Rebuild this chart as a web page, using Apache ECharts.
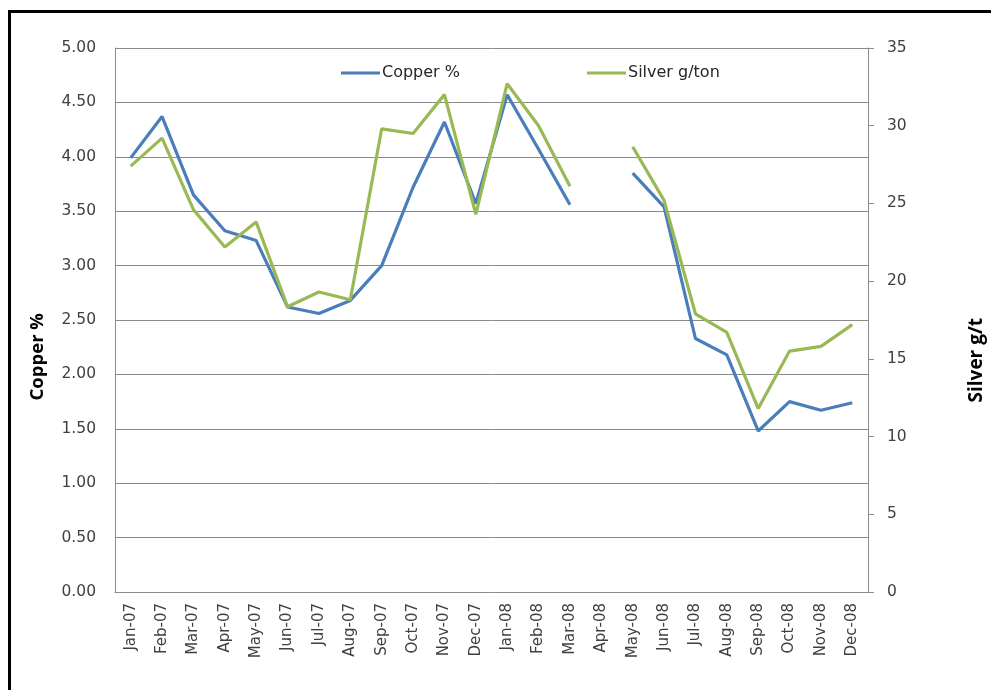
<!DOCTYPE html>
<html>
<head>
<meta charset="utf-8">
<script src="https://cdn.jsdelivr.net/npm/echarts@6/dist/echarts.min.js"></script>
<style>
  html, body { margin: 0; padding: 0; background: #fff; overflow: hidden; }
  #frame { position: absolute; left: 8px; top: 10px; width: 1200px; height: 900px;
           border-top: 3px solid #000; border-left: 3px solid #000; box-sizing: border-box; }
  #chart { position: absolute; left: 0; top: 0; width: 991px; height: 690px; }
</style>
</head>
<body>
<div id="frame"></div>
<div id="chart"></div>
<script>
// Monthly assay grades, Jan 2007 - Dec 2008 (no sample for Apr-08)
const months = ['Jan-07','Feb-07','Mar-07','Apr-07','May-07','Jun-07','Jul-07','Aug-07','Sep-07','Oct-07','Nov-07','Dec-07',
                'Jan-08','Feb-08','Mar-08','Apr-08','May-08','Jun-08','Jul-08','Aug-08','Sep-08','Oct-08','Nov-08','Dec-08'];
const copperPct = [3.99, 4.37, 3.65, 3.32, 3.23, 2.62, 2.56, 2.68, 3.00, 3.72, 4.32, 3.57,
                   4.57, 4.07, 3.56, null, 3.85, 3.54, 2.33, 2.18, 1.48, 1.75, 1.67, 1.74];
const silverGpt = [27.4, 29.2, 24.6, 22.2, 23.8, 18.35, 19.3, 18.8, 29.8, 29.5, 32.0, 24.3,
                   32.7, 30.0, 26.1, null, 28.65, 25.2, 17.9, 16.7, 11.8, 15.5, 15.8, 17.2];
const copperTicks = { min: 0, max: 5, step: 0.5 };
const silverTicks = { min: 0, max: 35, step: 5 };

const FONT = 'DejaVu Sans';
const TEXT = '#404040';
const AXIS = '#8c8c8c';

const chart = echarts.init(document.getElementById('chart'));
chart.setOption({
  animation: false,
  textStyle: { fontFamily: FONT },
  grid: { left: 115, right: 123, top: 48, bottom: 98, containLabel: false },
  legend: [
    { data: ['Copper %'], left: 336, top: 60, itemWidth: 39, itemHeight: 3,
      icon: 'rect', textStyle: { fontFamily: FONT, fontSize: 16, color: '#262626', padding: [0, 0, 0, -3] } },
    { data: ['Silver g/ton'], left: 582, top: 60, itemWidth: 39, itemHeight: 3,
      icon: 'rect', textStyle: { fontFamily: FONT, fontSize: 16, color: '#262626', padding: [0, 0, 0, -3] } }
  ],
  xAxis: {
    type: 'category', data: months, boundaryGap: true,
    axisLine: { lineStyle: { color: AXIS, width: 1 } },
    axisTick: { show: false },
    axisLabel: { rotate: 90, fontSize: 15, color: TEXT, margin: 11, interval: 0 }
  },
  yAxis: [
    { type: 'value', min: copperTicks.min, max: copperTicks.max, interval: copperTicks.step,
      axisLine: { show: true, lineStyle: { color: AXIS } },
      axisTick: { show: false },
      splitLine: { lineStyle: { color: '#8a8a8a', width: 1 } },
      axisLabel: { fontSize: 15.5, color: TEXT, margin: 19, formatter: v => v.toFixed(2) } },
    { type: 'value', min: silverTicks.min, max: silverTicks.max, interval: silverTicks.step, position: 'right',
      axisLine: { show: true, lineStyle: { color: AXIS } },
      axisTick: { show: true, length: 6, lineStyle: { color: AXIS } },
      splitLine: { show: false },
      axisLabel: { fontSize: 15.5, color: TEXT, margin: 19 } }
  ],
  graphic: [
    { type: 'text', left: 28, top: 313, rotation: Math.PI / 2,
      style: { text: 'Copper %', font: 'bold 18.5px "Open Sans"', fill: '#000' } },
    { type: 'text', left: 967, top: 318, rotation: Math.PI / 2,
      style: { text: 'Silver g/t', font: 'bold 19px "Open Sans"', fill: '#000' } }
  ],
  series: [
    { name: 'Copper %', type: 'line', yAxisIndex: 0, data: copperPct, connectNulls: false,
      symbol: 'none', lineStyle: { width: 3.2, color: '#4a7ebb' }, itemStyle: { color: '#4a7ebb' } },
    { name: 'Silver g/ton', type: 'line', yAxisIndex: 1, data: silverGpt, connectNulls: false,
      symbol: 'none', lineStyle: { width: 3.2, color: '#98b954' }, itemStyle: { color: '#98b954' } }
  ]
});
</script>
</body>
</html>
